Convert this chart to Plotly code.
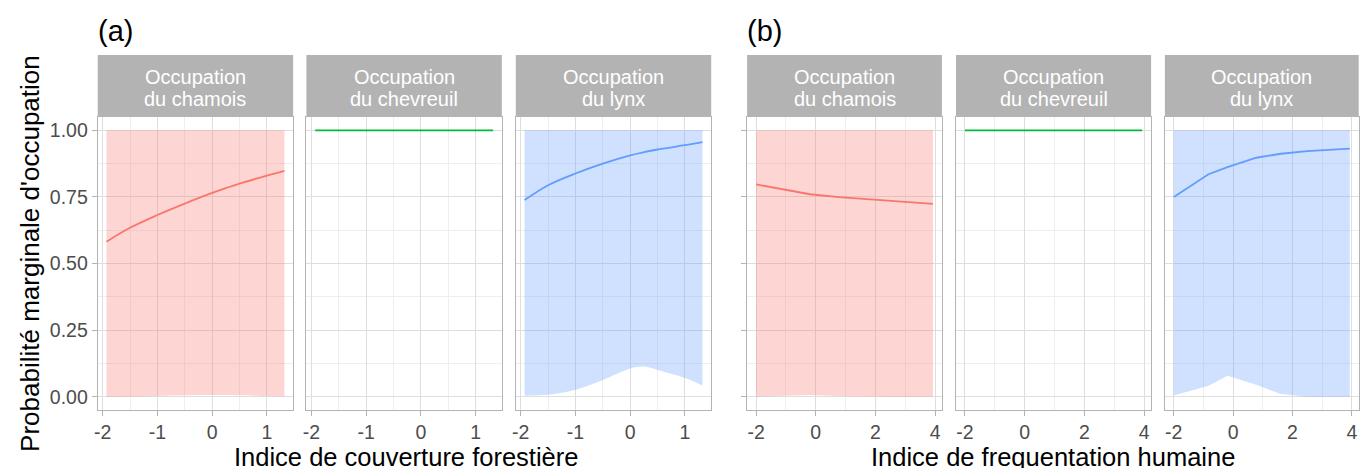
import plotly.graph_objects as go

# ---------------- data ----------------
# (a) forest cover index
x_forest = [-1.93, -1.5, -1.0, -0.5, 0.0, 0.25, 0.5, 1.0, 1.32]
chamois_forest = [0.582, 0.634, 0.682, 0.725, 0.765, 0.783, 0.800, 0.830, 0.848]
chamois_forest_lo = [0.000, 0.001, 0.003, 0.005, 0.006, 0.006, 0.005, 0.003, 0.002]
chamois_forest_hi = [1.0, 1.0, 1.0, 1.0, 1.0, 1.0, 1.0, 1.0, 1.0]
chevreuil_forest = [1.0, 1.0, 1.0, 1.0, 1.0, 1.0, 1.0, 1.0, 1.0]
chevreuil_forest_lo = [1.0, 1.0, 1.0, 1.0, 1.0, 1.0, 1.0, 1.0, 1.0]
chevreuil_forest_hi = [1.0, 1.0, 1.0, 1.0, 1.0, 1.0, 1.0, 1.0, 1.0]
lynx_forest = [0.738, 0.794, 0.838, 0.875, 0.906, 0.918, 0.928, 0.944, 0.956]
lynx_forest_lo = [0.004, 0.007, 0.026, 0.063, 0.106, 0.113, 0.100, 0.070, 0.042]
lynx_forest_hi = [1.0, 1.0, 1.0, 1.0, 1.0, 1.0, 1.0, 1.0, 1.0]

# (b) human frequentation index
x_human = [-2.0, -0.83, -0.19, 0.78, 1.61, 2.5, 3.93]
chamois_human = [0.797, 0.772, 0.760, 0.749, 0.742, 0.734, 0.724]
chamois_human_lo = [0.000, 0.004, 0.006, 0.003, 0.001, 0.000, 0.000]
chamois_human_hi = [1.0, 1.0, 1.0, 1.0, 1.0, 1.0, 1.0]
chevreuil_human = [1.0, 1.0, 1.0, 1.0, 1.0, 1.0, 1.0]
chevreuil_human_lo = [1.0, 1.0, 1.0, 1.0, 1.0, 1.0, 1.0]
chevreuil_human_hi = [1.0, 1.0, 1.0, 1.0, 1.0, 1.0, 1.0]
lynx_human = [0.750, 0.835, 0.862, 0.897, 0.912, 0.922, 0.931]
lynx_human_lo = [0.004, 0.041, 0.079, 0.045, 0.010, 0.000, 0.000]
lynx_human_hi = [1.0, 1.0, 1.0, 1.0, 1.0, 1.0, 1.0]

strip_line1 = ["Occupation", "Occupation", "Occupation"]
strip_line2 = ["du chamois", "du chevreuil", "du lynx"]
forest_ticks = [-2, -1, 0, 1]
forest_ticktext = ["-2", "-1", "0", "1"]
human_ticks = [-2, 0, 2, 4]
human_ticktext = ["-2", "0", "2", "4"]
y_ticks = [0.0, 0.25, 0.5, 0.75, 1.0]
y_ticktext = ["0.00", "0.25", "0.50", "0.75", "1.00"]

colors = ["#F8766D", "#00BA38", "#619CFF"]
fills = ["rgba(248,118,109,0.3)", "rgba(0,186,56,0.3)", "rgba(97,156,255,0.3)"]

# ---------------- layout geometry ----------------
W, H = 1361, 468
def fx(px):
    return px / W
def fy(py):
    return 1 - py / H

panel_px = [(94, 290), (303.3, 499.3), (513.3, 709.3),
            (745.3, 940.7), (954.8, 1150.5), (1164.3, 1358.7)]
plot_top, plot_bot = 117, 410
strip_top = 55

FONT = "Liberation Sans, Arial, sans-serif"
GRID = "#DEDEDE"
MINOR = "#EEEEEE"
BORDER = "#B3B3B3"
TICK_SIZE = 19.5

fig = go.Figure()

panels = [
    (x_forest, chamois_forest, chamois_forest_lo, chamois_forest_hi, 0, "spline"),
    (x_forest, chevreuil_forest, chevreuil_forest_lo, chevreuil_forest_hi, 1, "spline"),
    (x_forest, lynx_forest, lynx_forest_lo, lynx_forest_hi, 2, "spline"),
    (x_human, chamois_human, chamois_human_lo, chamois_human_hi, 0, "linear"),
    (x_human, chevreuil_human, chevreuil_human_lo, chevreuil_human_hi, 1, "linear"),
    (x_human, lynx_human, lynx_human_lo, lynx_human_hi, 2, "linear"),
]

layout = dict(
    width=W, height=H,
    margin=dict(l=0, r=0, t=0, b=0),
    paper_bgcolor="white", plot_bgcolor="white",
    showlegend=False,
    font=dict(family=FONT, color="#4D4D4D", size=16),
)

shapes = []
annotations = []

for i, (xs, ys, lo, hi, c, shape) in enumerate(panels):
    n = i + 1
    xa = "x" if n == 1 else f"x{n}"
    ya = "y" if n == 1 else f"y{n}"
    fig.add_trace(go.Scatter(x=xs, y=lo, mode="lines", line=dict(width=0, shape=shape),
                             xaxis=xa, yaxis=ya, hoverinfo="skip"))
    fig.add_trace(go.Scatter(x=xs, y=hi, mode="lines", line=dict(width=0, shape=shape),
                             fill="tonexty", fillcolor=fills[c], xaxis=xa, yaxis=ya,
                             hoverinfo="skip"))
    fig.add_trace(go.Scatter(x=xs, y=ys, mode="lines",
                             line=dict(color=colors[c], width=1.8, shape=shape),
                             xaxis=xa, yaxis=ya))

    x0, x1 = panel_px[i]
    if i < 3:
        xr = [-2.09, 1.48]
        tv, tt, mdt = forest_ticks, forest_ticktext, 0.5
    else:
        xr = [-2.3, 4.23]
        tv, tt, mdt = human_ticks, human_ticktext, 1
    xkey = "xaxis" if n == 1 else f"xaxis{n}"
    ykey = "yaxis" if n == 1 else f"yaxis{n}"
    layout[xkey] = dict(
        domain=[fx(x0), fx(x1)], anchor=ya, range=xr,
        tickvals=tv, ticktext=tt, ticks="outside", ticklen=5, tickwidth=1,
        tickcolor=BORDER, showgrid=True, gridcolor=GRID, gridwidth=1,
        minor=dict(dtick=mdt, tick0=0, showgrid=True, gridcolor=MINOR, gridwidth=1, ticks=""),
        showline=True, linecolor=BORDER, linewidth=1, mirror=True,
        zeroline=False, tickfont=dict(size=TICK_SIZE, color="#4D4D4D", family=FONT),
    )
    layout[ykey] = dict(
        domain=[fy(plot_bot), fy(plot_top)], anchor=xa, range=[-0.05, 1.05],
        tickvals=y_ticks, ticktext=y_ticktext,
        ticks="outside" if i in (0, 3) else "", ticklen=5, tickwidth=1, tickcolor=BORDER,
        showticklabels=(i == 0),
        showgrid=True, gridcolor=GRID, gridwidth=1,
        minor=dict(dtick=0.125, tick0=0, showgrid=True, gridcolor=MINOR, gridwidth=1, ticks=""),
        showline=True, linecolor=BORDER, linewidth=1, mirror=True,
        zeroline=False, tickfont=dict(size=TICK_SIZE, color="#4D4D4D", family=FONT),
    )
    # strip
    shapes.append(dict(type="rect", xref="paper", yref="paper",
                       x0=fx(x0), x1=fx(x1), y0=fy(plot_top), y1=fy(strip_top),
                       fillcolor="#B3B3B3", line=dict(width=0), layer="below"))
    for txt, yc in ((strip_line1[c], 77), (strip_line2[c], 99)):
        annotations.append(dict(xref="paper", yref="paper", x=fx((x0 + x1) / 2),
                                y=fy(yc), text=txt,
                                showarrow=False, xanchor="center", yanchor="middle",
                                font=dict(size=20, color="white", family=FONT)))

# panel tags
annotations.append(dict(xref="paper", yref="paper", x=fx(92), y=fy(31), text="(a)",
                        showarrow=False, xanchor="left", yanchor="middle",
                        font=dict(size=29, color="black", family=FONT)))
annotations.append(dict(xref="paper", yref="paper", x=fx(743), y=fy(31), text="(b)",
                        showarrow=False, xanchor="left", yanchor="middle",
                        font=dict(size=29, color="black", family=FONT)))
# axis titles
annotations.append(dict(xref="paper", yref="paper", x=fx(403), y=fy(457),
                        text="Indice de couverture forestière", showarrow=False,
                        xanchor="center", yanchor="middle",
                        font=dict(size=25.5, color="black", family=FONT)))
annotations.append(dict(xref="paper", yref="paper", x=fx(1052), y=fy(457),
                        text="Indice de frequentation humaine", showarrow=False,
                        xanchor="center", yanchor="middle",
                        font=dict(size=25.5, color="black", family=FONT)))
annotations.append(dict(xref="paper", yref="paper", x=fx(26), y=fy(253),
                        text="Probabilité marginale d'occupation", showarrow=False,
                        textangle=-90, xanchor="center", yanchor="middle",
                        font=dict(size=26, color="black", family=FONT)))

layout["shapes"] = shapes
layout["annotations"] = annotations
fig.update_layout(**layout)

fig.write_html("out.html", config={"displayModeBar": False},
               post_script="document.body.style.margin='0';document.body.style.overflow='hidden';")
